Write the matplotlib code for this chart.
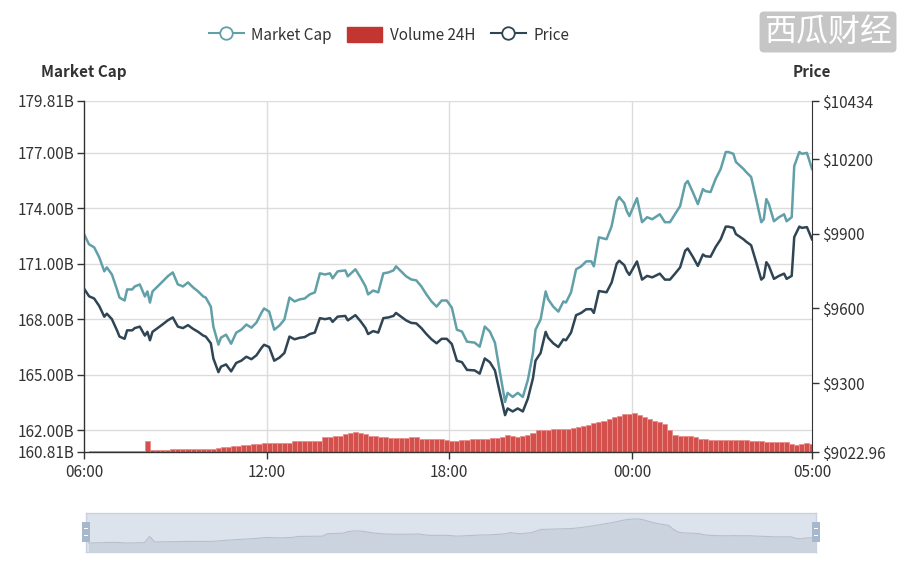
import matplotlib
matplotlib.use("Agg")
import matplotlib.pyplot as plt
import numpy as np
from matplotlib.lines import Line2D
from matplotlib.patches import Patch, Rectangle

plt.rcParams['font.family'] = ['Noto Sans CJK SC', 'DejaVu Sans']

# ---------------- data ----------------
times = ["06:00","06:10","06:20","06:30","06:40","06:45","06:55","07:05","07:10","07:20",
         "07:25","07:35","07:40","07:50","08:00","08:05","08:10","08:15","08:35","08:45",
         "08:55","09:05","09:10","09:15","09:25","09:35","09:45","09:55","10:00","10:10",
         "10:15","10:25","10:30","10:40","10:50","11:00","11:10","11:20","11:30","11:40",
         "11:50","11:55","12:05","12:15","12:25","12:35","12:45","12:55","13:05","13:15",
         "13:25","13:35","13:45","13:55","14:05","14:10","14:20","14:35","14:40","14:55",
         "15:05","15:15","15:20","15:30","15:40","15:50","16:00","16:10","16:15","16:25",
         "16:35","16:45","16:55","17:05","17:15","17:25","17:35","17:45","17:55","18:05",
         "18:15","18:25","18:35","18:50","19:00","19:05","19:10","19:20","19:30","19:40",
         "19:50","19:55","20:05","20:15","20:25","20:35","20:45","20:50","21:00","21:10",
         "21:15","21:25","21:35","21:45","21:50","22:00","22:10","22:20","22:30","22:40",
         "22:45","22:55","23:10","23:20","23:30","23:35","23:45","23:50","23:55","00:10",
         "00:20","00:30","00:40","00:55","01:05","01:15","01:25","01:35","01:45","01:50",
         "02:00","02:10","02:20","02:25","02:35","02:45","02:55","03:05","03:10","03:20",
         "03:25","03:40","03:45","03:55","04:05","04:15","04:20","04:25","04:30","04:40",
         "04:50","05:00","05:05","05:15","05:20","05:30","05:35","05:45","05:55"]

market_cap_b = [172.60,172.05,171.89,171.35,170.59,170.80,170.42,169.61,169.17,169.01,
                169.61,169.61,169.77,169.88,169.23,169.50,168.90,169.50,170.04,170.32,
                170.53,169.88,169.83,169.77,169.99,169.72,169.50,169.23,169.17,168.68,
                167.60,166.62,167.00,167.16,166.67,167.27,167.43,167.71,167.54,167.82,
                168.36,168.58,168.41,167.43,167.65,167.98,169.17,168.96,169.07,169.12,
                169.34,169.45,170.48,170.42,170.48,170.21,170.59,170.64,170.32,170.70,
                170.26,169.77,169.34,169.55,169.45,170.48,170.53,170.64,170.86,170.59,
                170.32,170.15,170.10,169.77,169.34,168.96,168.68,169.01,169.01,168.63,
                167.43,167.33,166.78,166.73,166.51,167.05,167.60,167.33,166.73,165.10,
                163.52,164.01,163.79,164.01,163.79,164.72,166.18,167.43,167.98,169.50,
                169.07,168.68,168.41,168.96,168.90,169.45,170.70,170.86,171.13,171.13,
                170.86,172.43,172.33,173.03,174.39,174.61,174.28,173.85,173.58,174.55,
                173.25,173.52,173.41,173.68,173.25,173.25,173.68,174.12,175.32,175.48,
                174.88,174.23,175.04,174.93,174.88,175.59,176.13,177.05,177.05,176.95,
                176.51,176.13,175.97,175.70,174.50,173.25,173.41,174.50,174.23,173.30,
                173.52,173.68,173.30,173.52,176.29,177.05,176.95,177.00,176.13]

price_usd = [9680,9649,9640,9610,9567,9579,9557,9512,9487,9478,
             9512,9512,9521,9527,9491,9506,9472,9506,9536,9552,
             9564,9527,9524,9521,9533,9518,9506,9491,9487,9460,
             9399,9344,9366,9375,9347,9381,9390,9406,9396,9412,
             9442,9454,9445,9390,9402,9421,9487,9476,9482,9485,
             9497,9503,9561,9557,9561,9546,9567,9570,9552,9573,
             9549,9521,9497,9509,9503,9561,9564,9570,9582,9567,
             9552,9542,9540,9521,9497,9476,9460,9478,9478,9457,
             9390,9384,9353,9351,9338,9369,9399,9384,9351,9259,
             9171,9198,9186,9198,9186,9238,9320,9390,9421,9506,
             9482,9460,9445,9476,9472,9503,9573,9582,9597,9597,
             9582,9670,9665,9704,9780,9792,9774,9750,9735,9789,
             9716,9731,9725,9740,9716,9716,9740,9765,9832,9841,
             9808,9771,9817,9810,9808,9847,9878,9929,9929,9924,
             9899,9878,9869,9854,9786,9716,9725,9786,9771,9719,
             9731,9740,9719,9731,9887,9929,9924,9927,9878]

# 24H volume, 10-minute bars from 06:00 (relative units, hidden axis)
volume_24h = [0.5,0.7,0.8,1.0,1.3,1.5,1.3,0.6,0.6,0.8,0.9,1.0,11.0,2.2,2.3,2.4,2.5,2.6,2.8,3.0,
              3.0,3.0,2.9,3.0,3.0,3.4,4.2,4.8,5.3,5.8,6.3,6.8,7.2,7.8,8.5,9.3,9.0,8.7,8.7,9.0,
              9.3,10.8,11.0,11.0,11.2,11.3,11.3,15.3,15.5,15.7,16.0,18.5,19.5,19.7,19.0,17.7,16.3,15.7,15.0,14.7,
              14.5,14.3,14.3,14.5,14.6,14.7,13.5,12.7,12.6,12.7,12.7,12.5,11.5,11.5,12.0,12.3,12.8,13.2,13.3,13.5,
              14.0,14.5,15.2,17.0,15.8,15.3,16.0,16.8,19.5,22.0,22.3,22.5,22.7,23.0,23.2,23.5,24.3,25.2,26.3,27.5,
              28.8,30.0,31.5,33.0,34.8,36.5,37.8,38.5,38.7,37.5,35.0,33.0,31.0,30.0,28.5,22.0,17.5,16.5,16.2,16.0,
              15.5,13.5,12.7,12.3,12.0,12.0,12.0,12.2,12.0,12.0,12.0,11.5,11.2,11.0,10.5,10.3,10.3,10.3,10.3,8.0,
              7.0,8.5,8.7,8.5]

left_ticks = [160.81, 162, 165, 168, 171, 174, 177, 179.81]
right_ticks = [9022.96, 9300, 9600, 9900, 10200, 10434]
x_tick_labels = ["06:00", "12:00", "18:00", "00:00", "05:00"]

# ---------------- helpers ----------------
def to_min(t):
    h, m = map(int, t.split(':'))
    return (h * 60 + m - 360) % 1440

x = np.array([to_min(t) for t in times])
vol_x = np.arange(len(volume_24h)) * 10 + 5
x_end = x[-1]
x_ticks = [to_min(t) for t in x_tick_labels[:-1]] + [x_end]

TEAL = '#61a0a8'
RED = '#c23531'
DARK = '#2f4554'
TXT = '#333333'

W, H = 912, 583
fig = plt.figure(figsize=(W / 100, H / 100), dpi=100)
pos = [84 / W, 1 - 452 / H, 728 / W, 351 / H]

# grid axes (bottom)
axg = fig.add_axes(pos)
axg.set_xlim(0, x_end)
axg.set_ylim(left_ticks[0], left_ticks[-1])
for t in left_ticks[1:]:
    axg.axhline(t, color='#dcdcdc', lw=1.0)
for t in x_ticks[1:-1]:
    axg.axvline(t, color='#dcdcdc', lw=1.0)
axg.axis('off')

# volume axes
axv = fig.add_axes(pos, facecolor='none')
axv.bar(vol_x, volume_24h, width=10, color='#d4504c', edgecolor='#ea8f8b', linewidth=0.6)
axv.set_xlim(0, x_end)
axv.set_ylim(0, 351)
axv.axis('off')

# main axes
ax = fig.add_axes(pos, facecolor='none')
ax.plot(x, market_cap_b, color=TEAL, lw=1.8)
ax.set_xlim(0, x_end)
ax.set_ylim(left_ticks[0], left_ticks[-1])
ax.set_yticks(left_ticks)
ax.set_yticklabels([f"{v:.2f}B" for v in left_ticks])
ax.set_xticks(x_ticks)
ax.set_xticklabels(x_tick_labels)
for s in ['top', 'right']:
    ax.spines[s].set_visible(False)
for s in ['left', 'bottom']:
    ax.spines[s].set_color(TXT)
    ax.spines[s].set_linewidth(1.0)
ax.tick_params(axis='both', colors=TXT, labelcolor=TXT, labelsize=11, length=5, width=1)
ax.tick_params(axis='y', pad=2)

axp = ax.twinx()
axp.plot(x, price_usd, color=DARK, lw=1.8)
axp.set_ylim(right_ticks[0], right_ticks[-1])
axp.set_yticks(right_ticks)
axp.set_yticklabels(["$" + (f"{v:.2f}".rstrip('0').rstrip('.')) for v in right_ticks])
for s in ['top', 'left', 'bottom']:
    axp.spines[s].set_visible(False)
axp.spines['right'].set_color(TXT)
axp.tick_params(axis='y', colors=TXT, labelcolor=TXT, labelsize=11, length=5, width=1, pad=2)

# axis names
fig.text(84 / W, 1 - 72 / H, 'Market Cap', ha='center', va='center', fontsize=11,
         fontweight='bold', color=TXT)
fig.text(812 / W, 1 - 72 / H, 'Price', ha='center', va='center', fontsize=11,
         fontweight='bold', color=TXT)

# legend
handles = [Line2D([0], [0], color=TEAL, lw=1.5, marker='o', ms=9, mfc='white', mew=1.3),
           Patch(facecolor=RED, edgecolor=RED),
           Line2D([0], [0], color=DARK, lw=1.5, marker='o', ms=9, mfc='white', mew=1.3)]
fig.legend(handles, ['Market Cap', 'Volume 24H', 'Price'], loc='center',
           bbox_to_anchor=(389 / W, 1 - 35 / H), ncol=3, frameon=False, fontsize=11,
           handlelength=2.3, handleheight=1.2, columnspacing=1.0, handletextpad=0.5,
           labelcolor=TXT)

# watermark
fig.text(828 / W, 1 - 32 / H, '西瓜财经', ha='center', va='center', fontsize=23, color='white',
         bbox=dict(boxstyle='round,pad=0.14', fc='#c6c6c6', ec='none'))

# data zoom slider
sax = fig.add_axes([86 / W, 1 - 552 / H, 730 / W, 39 / H], facecolor='#dde3ec')
sax.fill_between(vol_x, -13.8, volume_24h, color='#cbd3de', lw=0)
sax.plot(vol_x, volume_24h, color='#b6c0cd', lw=0.8)
sax.set_xlim(0, x_end)
sax.set_ylim(-13.8, 48.1)
sax.set_xticks([])
sax.set_yticks([])
for s in sax.spines.values():
    s.set_color('#c9d2de')
    s.set_linewidth(1.0)
for hx in (86, 816):
    fig.add_artist(Rectangle(((hx - 4) / W, 1 - 542 / H), 8 / W, 20 / H,
                             transform=fig.transFigure, fc='#a7b7cc', ec='none'))
    for hy in (529, 536):
        fig.add_artist(Rectangle(((hx - 2) / W, 1 - hy / H), 4 / W, 1.2 / H,
                                 transform=fig.transFigure, fc='white', ec='none'))

fig.savefig('out.png', dpi=100)
